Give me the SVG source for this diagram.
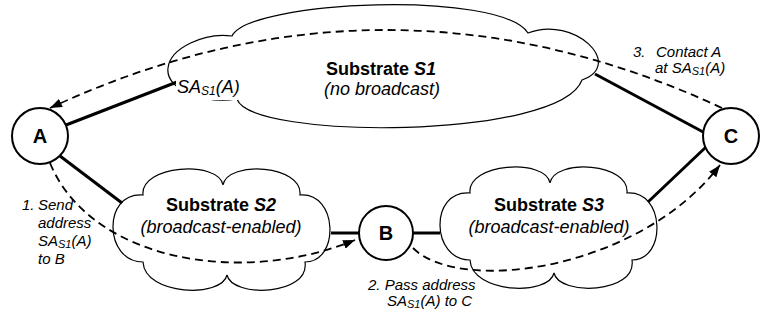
<svg xmlns="http://www.w3.org/2000/svg" width="767" height="320" viewBox="0 0 767 320">
<style>
text{font-family:"Liberation Sans",Arial,sans-serif;fill:#000}
.b{font-weight:bold;font-size:18px}
.it{font-style:italic;font-size:18px}
.s{font-style:italic;font-size:15px}
.node{font-weight:bold;font-size:20px}
.cloud{fill:#fff;stroke:#000;stroke-width:1.2}
.circ{fill:#fff;stroke:#000;stroke-width:2}
.solid{fill:none;stroke:#000;stroke-width:3}
.dash{fill:none;stroke:#000;stroke-width:1.8;stroke-dasharray:8 5}
</style>
<defs>
<marker id="arr" markerWidth="13" markerHeight="9" refX="12" refY="4.5" orient="auto" markerUnits="userSpaceOnUse">
<path d="M0,0 L12,4.5 L0,9 z" fill="#000"/>
</marker>
<path id="cl" d="M143,195 C140,165 218,160 223,185 C228,160 303,165 300,195 C338,192 340,262 305,262 C310,296 232,298 227,275 C222,298 145,296 143,262 C104,262 102,192 143,195 Z"/>
</defs>
<rect width="767" height="320" fill="#fff"/>
<g id="S1">
<path class="cloud" d="M237,99 C205,104 165,90 168,68 C170,48 205,32 232,36 C250,0 500,-10 528,33 C575,15 625,65 582,80 C560,140 250,140 237,99 Z"/>
<text class="b" x="381" y="75" text-anchor="middle">Substrate <tspan font-style="italic">S1</tspan></text>
<text class="it" x="382" y="95" text-anchor="middle">(no broadcast)</text>
</g>
<g id="S2">
<use href="#cl" class="cloud"/>
<text class="b" x="221" y="211" text-anchor="middle">Substrate <tspan font-style="italic">S2</tspan></text>
<text class="it" x="221" y="233" text-anchor="middle">(broadcast-enabled)</text>
</g>
<g id="S3">
<use href="#cl" class="cloud" transform="translate(327,-2)"/>
<text class="b" x="549" y="211" text-anchor="middle">Substrate <tspan font-style="italic">S3</tspan></text>
<text class="it" x="549" y="233" text-anchor="middle">(broadcast-enabled)</text>
</g>
<g id="connectors">
<line class="solid" x1="66" y1="125" x2="177" y2="82"/>
<line class="solid" x1="60" y1="156" x2="122" y2="203"/>
<line class="solid" x1="331" y1="233" x2="359" y2="233"/>
<line class="solid" x1="413" y1="233" x2="440" y2="233"/>
<line class="solid" x1="648" y1="202" x2="706" y2="147"/>
<line class="solid" x1="595" y1="74" x2="705" y2="133"/>
<path class="dash" d="M722,108 Q386,-48 50,108" marker-end="url(#arr)"/>
<path class="dash" d="M50,163 C90,260 240,287 355,240" marker-end="url(#arr)"/>
<path class="dash" d="M413,248 C460,295 640,270 720,165" marker-end="url(#arr)"/>
</g>
<g id="label-sa">
<rect x="176" y="79" width="66" height="21" fill="#fff"/>
<text class="it" x="177" y="93">SA<tspan font-size="12" dy="2">S1</tspan><tspan dy="-2">(A)</tspan></text>
</g>
<g id="A">
<circle class="circ" cx="40" cy="136" r="28"/>
<text class="node" x="40" y="143" text-anchor="middle">A</text>
</g>
<g id="B">
<circle class="circ" cx="386" cy="233" r="27"/>
<text class="node" x="386" y="240" text-anchor="middle">B</text>
</g>
<g id="C">
<circle class="circ" cx="731" cy="136" r="28"/>
<text class="node" x="731" y="143" text-anchor="middle">C</text>
</g>
<g id="step1">
<text class="s" x="22" y="210">1.</text>
<text class="s" x="38" y="210">Send</text>
<text class="s" x="38" y="228">address</text>
<text class="s" x="38" y="246">SA<tspan font-size="11" dy="1.5">S1</tspan><tspan dy="-1.5">(A)</tspan></text>
<text class="s" x="38" y="264">to B</text>
</g>
<g id="step2">
<text class="s" x="368" y="290">2. Pass address</text>
<text class="s" x="387" y="306">SA<tspan font-size="11" dy="1.5">S1</tspan><tspan dy="-1.5">(A) to C</tspan></text>
</g>
<g id="step3">
<text class="s" x="633" y="57">3.</text>
<text class="s" x="656" y="57">Contact A</text>
<text class="s" x="655" y="73">at SA<tspan font-size="11" dy="1.5">S1</tspan><tspan dy="-1.5">(A)</tspan></text>
</g>
</svg>
